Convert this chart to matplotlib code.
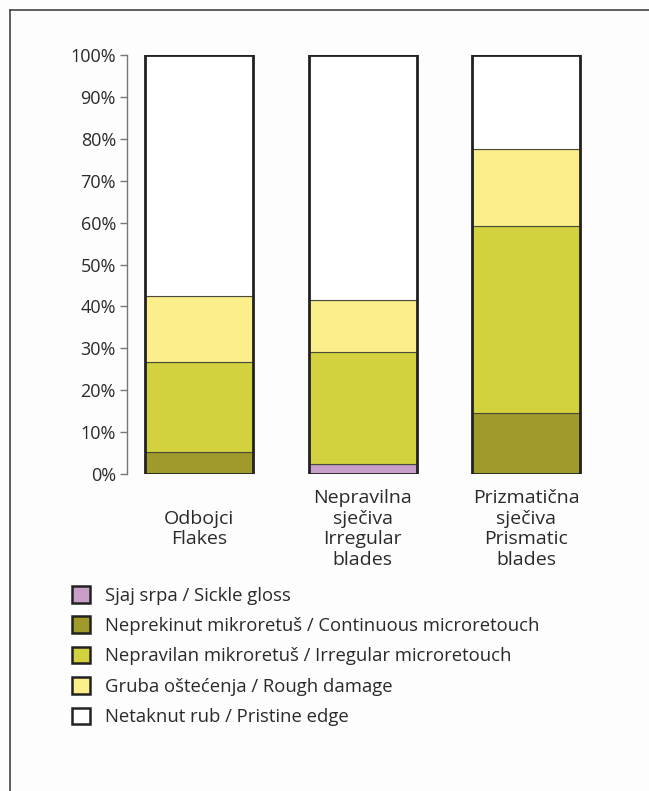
import matplotlib
matplotlib.use("Agg")
import matplotlib.pyplot as plt
from matplotlib.patches import Patch
from matplotlib.lines import Line2D
import numpy as np

plt.rcParams['font.family'] = ['Open Sans', 'DejaVu Sans']

categories = ["Odbojci\nFlakes", "Nepravilna\nsječiva\nIrregular\nblades", "Prizmatična\nsječiva\nPrismatic\nblades"]
series_names = ["Sjaj srpa / Sickle gloss",
                "Neprekinut mikroretuš / Continuous microretouch",
                "Nepravilan mikroretuš / Irregular microretouch",
                "Gruba oštećenja / Rough damage",
                "Netaknut rub / Pristine edge"]
sickle_gloss = [0.0, 2.4, 0.0]
continuous = [5.3, 0.0, 14.6]
irregular = [21.5, 26.7, 44.6]
rough = [15.8, 12.4, 18.4]
pristine = [57.4, 58.5, 22.4]
colors = ["#c99fca", "#a09a2a", "#d3d23e", "#fbee8b", "#ffffff"]
yticks = [0, 10, 20, 30, 40, 50, 60, 70, 80, 90, 100]
ytick_labels = [f"{v}%" for v in yticks]

W, H = 649, 791
fig = plt.figure(figsize=(W / 100, H / 100), dpi=100)
fig.patch.set_facecolor("#fdfdfd")

# frame lines
fig.add_artist(Line2D([10 / W, 10 / W], [0, 1 - 10 / H], color="#444444", lw=1.2, transform=fig.transFigure))
fig.add_artist(Line2D([10 / W, 1], [1 - 10 / H, 1 - 10 / H], color="#444444", lw=1.2, transform=fig.transFigure))

ax_left, ax_right = 127, 608
ax_top, ax_bottom = 55, 474
ax = fig.add_axes([ax_left / W, 1 - ax_bottom / H, (ax_right - ax_left) / W, (ax_bottom - ax_top) / H])
ax.set_facecolor("none")

x = np.arange(len(categories))
width = 0.66
data = [sickle_gloss, continuous, irregular, rough, pristine]
bottom = np.zeros(len(categories))
for vals, col in zip(data, colors):
    vals = np.array(vals)
    ax.bar(x, vals, width, bottom=bottom, color=col, edgecolor="#4a4a3a", linewidth=0.8, zorder=2)
    bottom += vals
# outer outline
ax.bar(x, bottom, width, bottom=0, facecolor="none", edgecolor="#222222", linewidth=2.0, zorder=3)

ax.set_xlim(-0.44, 2.5)
ax.set_ylim(0, 100)
ax.set_yticks(yticks)
ax.set_yticklabels(ytick_labels, fontsize=13, color="#2a2a2a")
ax.tick_params(axis='y', length=5, width=1, color="#777777", pad=3)
ax.set_xticks([])
for s in ["top", "right", "bottom"]:
    ax.spines[s].set_visible(False)
ax.spines["left"].set_color("#777777")
ax.spines["left"].set_linewidth(1)

label_y = -(529 - ax_bottom) / (ax_bottom - ax_top)
for xi, cat in zip(x, categories):
    ax.text(xi, label_y, cat, transform=ax.get_xaxis_transform(), ha="center", va="center",
            fontsize=14, color="#2a2a2a", linespacing=1.18)

handles = [Patch(facecolor=c, edgecolor="#222222", linewidth=1.8) for c in colors]
leg = fig.legend(handles, series_names, loc="upper left",
                 bbox_to_anchor=(72 / W, 1 - 586 / H), frameon=False, fontsize=13.3,
                 handlelength=1.0, handleheight=1.0, handletextpad=0.8, labelspacing=0.64,
                 borderaxespad=0, borderpad=0)
for t in leg.get_texts():
    t.set_color("#2a2a2a")

fig.savefig("out.png", dpi=100, facecolor=fig.get_facecolor())
